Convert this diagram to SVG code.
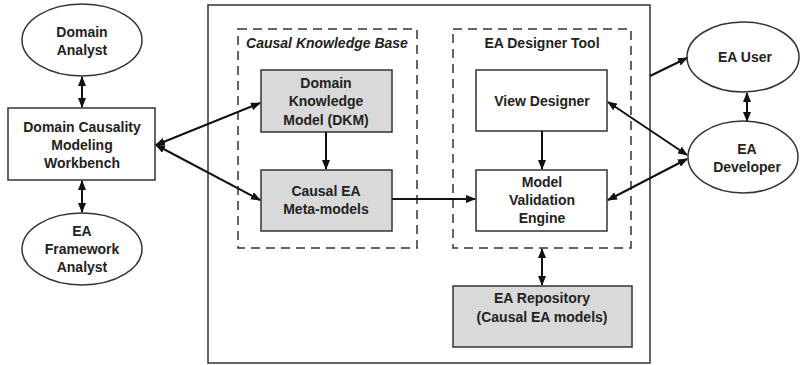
<svg xmlns="http://www.w3.org/2000/svg" width="800" height="365" viewBox="0 0 800 365">
<style>
text{font-family:"Liberation Sans",Arial,sans-serif;font-weight:bold;font-size:14px;fill:#222;text-anchor:middle}
.box{fill:#fff;stroke:#333;stroke-width:1.5}
.gray{fill:#d9d9d9;stroke:#333;stroke-width:1.5}
.dash{fill:none;stroke:#333;stroke-width:1.5;stroke-dasharray:9,6}
.c{stroke:#111;stroke-width:2;fill:none}
</style>
<defs>
<marker id="ah" markerWidth="10" markerHeight="8" refX="9" refY="4" orient="auto" markerUnits="userSpaceOnUse"><path d="M0,0 L10,4 L0,8 Z" fill="#111"/></marker>
<marker id="as" markerWidth="10" markerHeight="8" refX="1" refY="4" orient="auto" markerUnits="userSpaceOnUse"><path d="M10,0 L0,4 L10,8 Z" fill="#111"/></marker>
</defs>
<rect x="0" y="0" width="800" height="365" fill="#fff"/>
<g id="system"><rect x="208" y="5" width="442" height="358" class="box"/></g>
<g id="ckb"><rect x="238" y="29" width="179" height="219" class="dash"/><text x="327" y="48" font-style="italic">Causal Knowledge Base</text></g>
<g id="edt"><rect x="453" y="29" width="178" height="219" class="dash"/><text x="542" y="48">EA Designer Tool</text></g>
<g id="domainAnalyst"><ellipse cx="82" cy="40" rx="60" ry="36" class="box"/><text x="82" y="37">Domain</text><text x="82" y="55">Analyst</text></g>
<g id="workbench"><rect x="8" y="108" width="147" height="72" class="box"/><text x="82" y="132">Domain Causality</text><text x="82" y="150">Modeling</text><text x="82" y="168">Workbench</text></g>
<g id="frameworkAnalyst"><ellipse cx="82" cy="249" rx="60" ry="36" class="box"/><text x="82" y="236">EA</text><text x="82" y="254">Framework</text><text x="82" y="272">Analyst</text></g>
<g id="dkm"><rect x="261" y="70" width="131" height="62" class="gray"/><text x="326" y="88">Domain</text><text x="326" y="106">Knowledge</text><text x="326" y="125">Model (DKM)</text></g>
<g id="meta"><rect x="261" y="170" width="131" height="61" class="gray"/><text x="326" y="196">Causal EA</text><text x="326" y="214">Meta-models</text></g>
<g id="viewDesigner"><rect x="476" y="70" width="131" height="61" class="box"/><text x="542" y="106">View Designer</text></g>
<g id="mve"><rect x="476" y="170" width="131" height="61" class="box"/><text x="542" y="187">Model</text><text x="542" y="205">Validation</text><text x="542" y="223">Engine</text></g>
<g id="repo"><rect x="453" y="286" width="179" height="61" class="gray"/><text x="542" y="303">EA Repository</text><text x="542" y="322">(Causal EA models)</text></g>
<g id="eaUser"><ellipse cx="743" cy="57" rx="56" ry="35" class="box"/><text x="745" y="62">EA User</text></g>
<g id="eaDeveloper"><ellipse cx="743" cy="157" rx="55" ry="36" class="box"/><text x="747" y="154">EA</text><text x="747" y="172">Developer</text></g>
<g id="connectors">
<line x1="82" y1="77" x2="82" y2="107" class="c" marker-start="url(#as)" marker-end="url(#ah)"/>
<line x1="82" y1="181" x2="82" y2="212" class="c" marker-start="url(#as)" marker-end="url(#ah)"/>
<line x1="156" y1="145" x2="260" y2="103" class="c" marker-start="url(#as)" marker-end="url(#ah)"/>
<line x1="156" y1="145" x2="260" y2="200" class="c" marker-start="url(#as)" marker-end="url(#ah)"/>
<line x1="326" y1="132" x2="326" y2="169" class="c" marker-end="url(#ah)"/>
<line x1="392" y1="199" x2="475" y2="199" class="c" marker-end="url(#ah)"/>
<line x1="542" y1="131" x2="542" y2="169" class="c" marker-end="url(#ah)"/>
<line x1="542" y1="249" x2="542" y2="285" class="c" marker-start="url(#as)" marker-end="url(#ah)"/>
<line x1="650" y1="76" x2="687" y2="58" class="c" marker-end="url(#ah)"/>
<line x1="747" y1="93" x2="747" y2="121" class="c" marker-start="url(#as)" marker-end="url(#ah)"/>
<line x1="608" y1="102" x2="687" y2="155" class="c" marker-start="url(#as)" marker-end="url(#ah)"/>
<line x1="608" y1="200" x2="687" y2="159" class="c" marker-start="url(#as)" marker-end="url(#ah)"/>
</g>
</svg>
